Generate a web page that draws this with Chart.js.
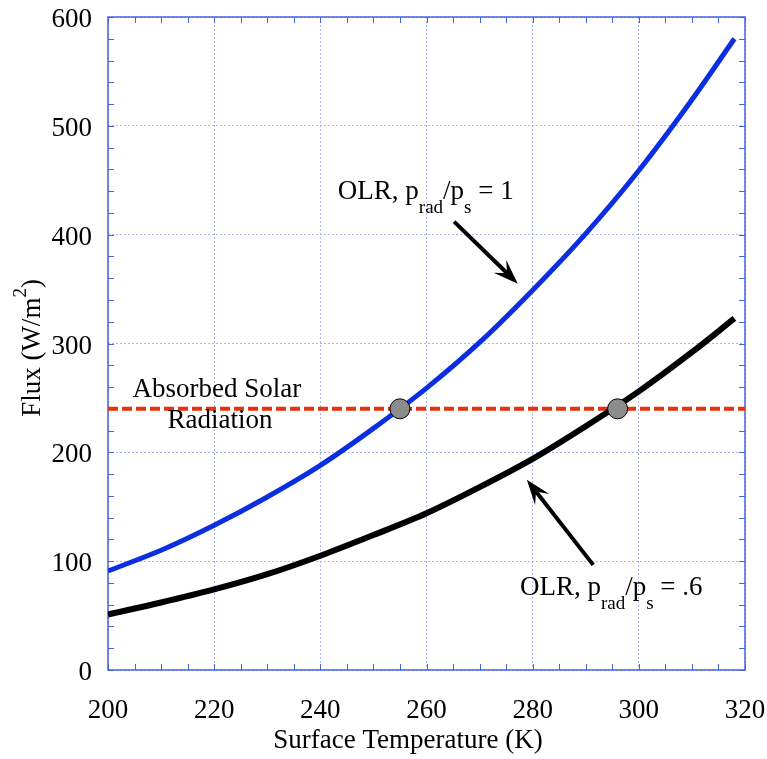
<!DOCTYPE html>
<html>
<head>
<meta charset="utf-8">
<script src="https://cdn.jsdelivr.net/npm/chart.js@4.4.0/dist/chart.umd.min.js"></script>
<style>
  html, body { margin: 0; padding: 0; background: #fff; }
  #wrap { width: 767px; height: 759px; }
</style>
</head>
<body>
<div id="wrap"><canvas id="chart"></canvas></div>
<script>
// Values
const temps = [200, 210, 220, 230, 240, 250, 260, 270, 280, 290, 300, 310, 318];
const olrClear = [91, 110, 133, 159, 188, 222, 259, 301, 349, 401, 459, 524, 580];
const olrLow = [51, 62, 74, 88, 105, 124, 144, 168, 194, 224, 256, 292, 323];
const solarT = [200, 320];
const solarFlux = [240, 240];
const crossT = [255, 296];
const crossFlux = [240, 240];
const xTickVals = [200, 220, 240, 260, 280, 300, 320];
const yTickVals = [0, 100, 200, 300, 400, 500, 600];

const FONT = "'Liberation Serif', 'Times New Roman', serif";
const frameColor = "#4463e0";
const gridColor = "#a9b8f2";

// text labels (anchored in data coordinates)
const labels = [
  { x: 243.3, y: 432.8, align: "left", parts: [["OLR, p", 0], ["rad", 1], ["/p", 0], ["s", 1], [" = 1", 0]] },
  { x: 277.6, y: 68.9, align: "left", parts: [["OLR, p", 0], ["rad", 1], ["/p", 0], ["s", 1], [" = .6", 0]] },
  { x: 220.5, y: 250.8, align: "center", parts: [["Absorbed Solar", 0]] },
  { x: 221.1, y: 222.3, align: "center", parts: [["Radiation", 0]] },
];
const arrows = [
  { from: [265.2, 412], to: [277.2, 355] },
  { from: [291.4, 96.6], to: [278.9, 174.8] },
];

function xy(xs, ys) {
  return xs.map((x, i) => ({ x: x, y: ys[i] }));
}

function drawParts(ctx, x, y, parts, align) {
  const big = "27px " + FONT;
  const small = "19px " + FONT;
  let total = 0;
  parts.forEach(([txt, sub]) => {
    ctx.font = sub ? small : big;
    total += ctx.measureText(txt).width;
  });
  let cx = align === "center" ? x - total / 2 : x;
  ctx.textAlign = "left";
  ctx.textBaseline = "alphabetic";
  parts.forEach(([txt, sub]) => {
    ctx.font = sub ? small : big;
    ctx.fillText(txt, cx, sub ? y + 14 : y);
    cx += ctx.measureText(txt).width;
  });
}

const decorPlugin = {
  id: "decor",
  beforeDatasetsDraw(chart) {
    const { ctx, chartArea: a, scales } = chart;
    const xs = scales.x, ys = scales.y;
    ctx.save();
    // minor ticks pointing inward on all four sides
    ctx.strokeStyle = frameColor;
    ctx.lineWidth = 1;
    ctx.beginPath();
    for (let t = 200; t <= 320; t += 5) {
      const px = Math.round(xs.getPixelForValue(t)) + 0.5;
      ctx.moveTo(px, a.bottom);
      ctx.lineTo(px, a.bottom - 6);
      ctx.moveTo(px, a.top);
      ctx.lineTo(px, a.top + 6);
    }
    for (let v = 0; v <= 600; v += 20) {
      const py = Math.round(ys.getPixelForValue(v)) + 0.5;
      ctx.moveTo(a.left, py);
      ctx.lineTo(a.left + 6, py);
      ctx.moveTo(a.right, py);
      ctx.lineTo(a.right - 6, py);
    }
    ctx.stroke();
    // frame
    ctx.lineWidth = 1.5;
    ctx.strokeRect(a.left, a.top, a.right - a.left, a.bottom - a.top);
    ctx.restore();
  },
  afterDatasetsDraw(chart) {
    const { ctx, scales } = chart;
    const xs = scales.x, ys = scales.y;
    ctx.save();
    ctx.fillStyle = "#000";
    labels.forEach((l) => {
      drawParts(ctx, xs.getPixelForValue(l.x), ys.getPixelForValue(l.y), l.parts, l.align);
    });

    // arrows
    ctx.strokeStyle = "#000";
    ctx.lineWidth = 4;
    arrows.forEach((ar) => {
      const x1 = xs.getPixelForValue(ar.from[0]), y1 = ys.getPixelForValue(ar.from[1]);
      const x2 = xs.getPixelForValue(ar.to[0]), y2 = ys.getPixelForValue(ar.to[1]);
      const ang = Math.atan2(y2 - y1, x2 - x1);
      const c = Math.cos(ang), s = Math.sin(ang);
      const len = 22, wid = 9;
      const bx = x2 - len * c, by = y2 - len * s;
      ctx.beginPath();
      ctx.moveTo(x1, y1);
      ctx.lineTo(x2 - 12 * c, y2 - 12 * s);
      ctx.stroke();
      ctx.beginPath();
      ctx.moveTo(x2, y2);
      ctx.lineTo(bx + wid * s - 3 * c, by - wid * c - 3 * s);
      ctx.lineTo(x2 - 15 * c, y2 - 15 * s);
      ctx.lineTo(bx - wid * s - 3 * c, by + wid * c - 3 * s);
      ctx.closePath();
      ctx.fill();
    });

    // axis titles
    ctx.font = "27px " + FONT;
    ctx.textAlign = "center";
    ctx.textBaseline = "alphabetic";
    ctx.fillText("Surface Temperature (K)", 408, 748);

    ctx.translate(40, 348);
    ctx.rotate(-Math.PI / 2);
    const p1 = "Flux (W/m", p2 = "2", p3 = ")";
    ctx.font = "27px " + FONT;
    const w1 = ctx.measureText(p1).width, w3 = ctx.measureText(p3).width;
    ctx.font = "19px " + FONT;
    const w2 = ctx.measureText(p2).width;
    let sx = -(w1 + w2 + w3) / 2;
    ctx.textAlign = "left";
    ctx.font = "27px " + FONT;
    ctx.fillText(p1, sx, 0);
    sx += w1;
    ctx.font = "19px " + FONT;
    ctx.fillText(p2, sx, -14);
    sx += w2;
    ctx.font = "27px " + FONT;
    ctx.fillText(p3, sx, 0);
    ctx.restore();
  },
};

new Chart(document.getElementById("chart").getContext("2d"), {
  type: "line",
  data: {
    datasets: [
      {
        label: "crossings",
        data: xy(crossT, crossFlux),
        showLine: false,
        pointRadius: 10,
        pointBackgroundColor: "#8c8c8c",
        pointBorderColor: "#000",
        pointBorderWidth: 1,
      },
      {
        label: "OLR prad/ps = 1",
        data: xy(temps, olrClear),
        borderColor: "#0a2ee0",
        borderWidth: 5,
        pointRadius: 0,
        cubicInterpolationMode: "monotone",
      },
      {
        label: "OLR prad/ps = .6",
        data: xy(temps, olrLow),
        borderColor: "#000",
        borderWidth: 6,
        pointRadius: 0,
        cubicInterpolationMode: "monotone",
      },
      {
        label: "Absorbed Solar Radiation",
        data: xy(solarT, solarFlux),
        borderColor: "#e8300c",
        borderWidth: 4,
        borderDash: [10, 4],
        pointRadius: 0,
      },
    ],
  },
  options: {
    responsive: true,
    maintainAspectRatio: false,
    animation: false,
    layout: { padding: { top: 17, right: 22, left: 0, bottom: 0 } },
    plugins: { legend: { display: false }, tooltip: { enabled: false } },
    scales: {
      x: {
        type: "linear",
        min: 200,
        max: 320,
        afterBuildTicks: (s) => { s.ticks = xTickVals.map((v) => ({ value: v })); },
        afterFit: (s) => { s.height = 89; s.paddingLeft = 0; s.paddingRight = 0; },
        ticks: { color: "#000", font: { family: FONT, size: 27 }, padding: 25, maxRotation: 0 },
        grid: { color: gridColor, lineWidth: 1, drawTicks: false },
        border: { display: false, dash: [2, 2] },
      },
      y: {
        type: "linear",
        min: 0,
        max: 600,
        afterBuildTicks: (s) => { s.ticks = yTickVals.map((v) => ({ value: v })); },
        afterFit: (s) => { s.width = 108; s.paddingTop = 0; s.paddingBottom = 0; },
        ticks: { color: "#000", font: { family: FONT, size: 27 }, padding: 16, labelOffset: 3 },
        grid: { color: gridColor, lineWidth: 1, drawTicks: false },
        border: { display: false, dash: [2, 2] },
      },
    },
  },
  plugins: [decorPlugin],
});
</script>
</body>
</html>
